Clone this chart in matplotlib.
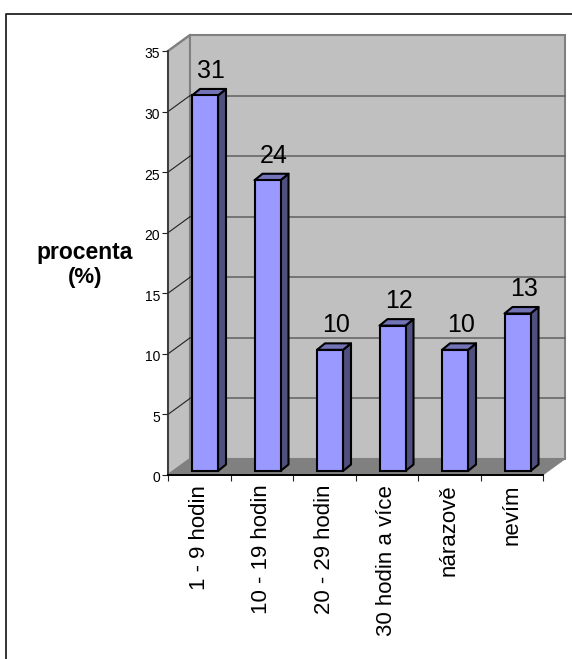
import numpy as np
import matplotlib; matplotlib.use('Agg')
import matplotlib.pyplot as plt
from matplotlib.lines import Line2D
from matplotlib.transforms import ScaledTranslation

plt.rcParams['font.family'] = ['Liberation Sans', 'DejaVu Sans']

categories = ['1 - 9 hodin', '10 - 19 hodin', '20 - 29 hodin', '30 hodin a více', 'nárazově', 'nevím']
values = [31, 24, 10, 12, 10, 13]
y_ticks = [0, 5, 10, 15, 20, 25, 30, 35]

W, H = 572, 659
fig = plt.figure(figsize=(W/100, H/100), dpi=100)
ax = fig.add_axes([168/W, 1-475/H, 375/W, 424/H])
ax.set_xlim(0, 6); ax.set_ylim(0, 35)
ax.patch.set_alpha(0)

# oblique depth of the box and of the bars, in data units
DX, DY = 22/62.5, 16/12.114
IN_X, IN_Y = 5.5/62.5, 4/12.114
BAR_DX, BAR_DY = 8/62.5, 6.5/12.114
BAR_W = 0.416

# walls + floor
ax.fill([0, DX, DX, 0], [0, DY, 35+DY, 35], fc='#c0c0c0', ec='#808080', lw=1.5, clip_on=False, zorder=1)
ax.fill([DX, 6+DX, 6+DX, DX], [DY, DY, 35+DY, 35+DY], fc='#c0c0c0', ec='#808080', lw=1.5, clip_on=False, zorder=1)
ax.fill([0, 6, 6+DX, DX], [0, 0, DY, DY], fc='#808080', ec='#808080', lw=0.5, clip_on=False, zorder=1.2)

# gridlines on both walls
for v in y_ticks[1:-1]:
    ax.plot([DX, 6+DX], [v+DY, v+DY], color='#606060', lw=1.1, clip_on=False, zorder=1.1)
    ax.plot([0, DX], [v, v+DY], color='#222222', lw=0.8, clip_on=False, zorder=1.1)
ax.plot([0, DX], [35, 35+DY], color='#808080', lw=1.5, clip_on=False, zorder=1.1)

# bars: front face, then side and top
lefts = np.arange(len(values)) + 0.384
ax.bar(lefts, values, width=BAR_W, bottom=IN_Y, align='edge', color='#9999ff',
       edgecolor='black', lw=1.5, clip_on=False, zorder=4)
for x0, v in zip(lefts, values):
    x1 = x0 + BAR_W
    top = v + IN_Y
    ax.fill([x1, x1+BAR_DX, x1+BAR_DX, x1], [IN_Y, IN_Y+BAR_DY, top+BAR_DY, top],
            fc='#50507f', ec='black', lw=1.5, clip_on=False, zorder=3.5, joinstyle='round')
    ax.fill([x0, x1, x1+BAR_DX, x0+BAR_DX], [top, top, top+BAR_DY, top+BAR_DY],
            fc='#7373b8', ec='black', lw=1.5, clip_on=False, zorder=3.5, joinstyle='round')
    ax.annotate(str(v), (x0 + BAR_W/2, top + BAR_DY), xytext=(4.5, 4.5), textcoords='offset points',
                ha='center', va='bottom', fontsize=18, color='black', annotation_clip=False, zorder=5)

# axes
ax.spines['top'].set_visible(False); ax.spines['right'].set_visible(False)
ax.spines['left'].set_color('#333333'); ax.spines['left'].set_linewidth(1.2)
ax.spines['bottom'].set_color('black'); ax.spines['bottom'].set_linewidth(1.4)
ax.set_yticks(y_ticks)
ax.tick_params(axis='y', length=4.3, width=0.8, labelsize=10, pad=1.5, color='#222222')
for lab in ax.get_yticklabels():
    lab.set_transform(lab.get_transform() + ScaledTranslation(0, -2/100, fig.dpi_scale_trans))
ax.set_xticks(range(7), [''] * 7)
ax.tick_params(axis='x', which='major', length=4.3, width=0.8, color='#222222')
ax.set_xticks(np.arange(6) + 0.5, categories, minor=True, rotation=90, fontsize=16)
ax.tick_params(axis='x', which='minor', length=0, pad=7)

fig.text(85/W, 1-252/H, 'procenta', fontsize=16.5, fontweight='bold', ha='center', va='center')
fig.text(85/W, 1-278/H, '(%)', fontsize=16, fontweight='bold', ha='center', va='center')

# outer frame, only top and left are visible
fig.add_artist(Line2D([5.5/W, 5.5/W, 1], [0, 1-13.5/H, 1-13.5/H], color='#222222', lw=1.3))

fig.savefig('out.png', dpi=100)
